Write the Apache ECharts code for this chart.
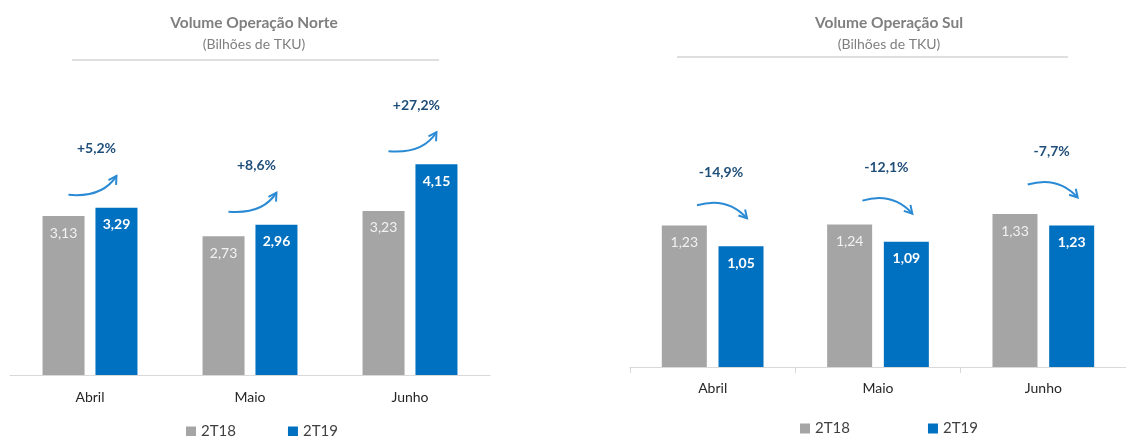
<!DOCTYPE html>
<html>
<head>
  <meta charset="UTF-8">
  <title>Volume Operação</title>
  <script src="https://cdn.jsdelivr.net/npm/echarts@6/dist/echarts.min.js"></script>
  <style>
    html, body { margin: 0; padding: 0; background: #fff; }
    #main { width: 1126px; height: 436px; }
  </style>
</head>
<body>
  <div id="main"></div>
<script type="text/javascript">
  // dados
  var meses = ['Abril', 'Maio', 'Junho'];
  var norte2T18 = [3.13, 2.73, 3.23];
  var norte2T19 = [3.29, 2.96, 4.15];
  var norteVar = ['+5,2%', '+8,6%', '+27,2%'];
  var sul2T18 = [1.23, 1.24, 1.33];
  var sul2T19 = [1.05, 1.09, 1.23];
  var sulVar = ['-14,9%', '-12,1%', '-7,7%'];

  var FONT = 'Lato';
  var CINZA = '#a5a5a5';
  var AZUL = '#0070c0';
  var SETA = '#2b8ad4';

  function fmt(p) {
    return p.value.toFixed(2).replace('.', ',');
  }

  function barSerie(name, data, xi, color, bw, labelColor, bold) {
    return {
      name: name,
      type: 'bar',
      xAxisIndex: xi,
      yAxisIndex: xi,
      data: data,
      barWidth: bw,
      barGap: '26%',
      itemStyle: { color: color },
      label: {
        show: true,
        position: 'insideTop',
        distance: 10,
        formatter: fmt,
        fontFamily: FONT,
        fontSize: 14,
        fontWeight: bold ? 'bold' : 'normal',
        color: labelColor
      }
    };
  }

  var myChart = echarts.init(document.getElementById('main'));
  var option = {
    animation: false,
    textStyle: { fontFamily: FONT },
    title: [
      {
        text: 'Volume Operação Norte', subtext: '(Bilhões de TKU)',
        left: 249, top: 10, textAlign: 'center', itemGap: 6,
        textStyle: { fontFamily: FONT, fontSize: 15.5, fontWeight: 'bold', color: '#7f7f7f' },
        subtextStyle: { fontFamily: FONT, fontSize: 14, color: '#7f7f7f' }
      },
      {
        text: 'Volume Operação Sul', subtext: '(Bilhões de TKU)',
        left: 884, top: 10, textAlign: 'center', itemGap: 6,
        textStyle: { fontFamily: FONT, fontSize: 15.5, fontWeight: 'bold', color: '#7f7f7f' },
        subtextStyle: { fontFamily: FONT, fontSize: 14, color: '#7f7f7f' }
      }
    ],
    legend: [
      {
        data: ['2T18', '2T19'], left: 181, top: 419, icon: 'rect',
        itemWidth: 10, itemHeight: 10, itemGap: 52,
        textStyle: { fontFamily: FONT, fontSize: 15, color: '#404040' }
      },
      {
        data: ['2T18', '2T19'], left: 795, top: 416, icon: 'rect',
        itemWidth: 10, itemHeight: 10, itemGap: 78,
        textStyle: { fontFamily: FONT, fontSize: 15, color: '#404040' }
      }
    ],
    grid: [
      { left: 10, width: 480, top: 121, height: 254 },
      { left: 630, width: 510, top: 137, height: 230 }
    ],
    xAxis: [
      {
        type: 'category', gridIndex: 0, data: meses,
        axisLine: { lineStyle: { color: '#d9d9d9' } },
        axisTick: { show: false },
        axisLabel: { margin: 15, fontFamily: FONT, fontSize: 14, color: '#262626' }
      },
      {
        type: 'category', gridIndex: 1, data: meses,
        axisLine: { lineStyle: { color: '#d9d9d9' } },
        axisTick: { show: true, length: 6, lineStyle: { color: '#d9d9d9' } },
        axisLabel: { margin: 14, fontFamily: FONT, fontSize: 14, color: '#262626' }
      }
    ],
    yAxis: [
      { type: 'value', gridIndex: 0, min: 0, max: 5, show: false },
      { type: 'value', gridIndex: 1, min: 0, max: 2, show: false }
    ],
    series: [
      barSerie('2T18', norte2T18, 0, CINZA, 42, '#f2f2f2', false),
      barSerie('2T19', norte2T19, 0, AZUL, 42, '#ffffff', true),
      barSerie('2T18', sul2T18, 1, CINZA, 45, '#f2f2f2', false),
      barSerie('2T19', sul2T19, 1, AZUL, 45, '#ffffff', true)
    ]
  };
  myChart.setOption(option);

  // posição das barras azuis
  function topoAzul(si, i) {
    var lay = myChart.getModel().getSeriesByIndex(si).getData().getItemLayout(i);
    return { x: lay.x + lay.width / 2, y: Math.min(lay.y, lay.y + lay.height) };
  }

  function seta(sx, sy, cx, cy, ex, ey) {
    var dx = ex - cx, dy = ey - cy;
    var len = Math.sqrt(dx * dx + dy * dy);
    dx /= len; dy /= len;
    var a = Math.PI / 6, h = 9;
    function rot(t) {
      return [ex - h * (dx * Math.cos(t) - dy * Math.sin(t)),
              ey - h * (dx * Math.sin(t) + dy * Math.cos(t))];
    }
    return [
      {
        type: 'bezierCurve',
        shape: { x1: sx, y1: sy, x2: ex, y2: ey, cpx1: cx, cpy1: cy },
        style: { stroke: SETA, lineWidth: 2, fill: null }
      },
      {
        type: 'polyline',
        shape: { points: [rot(a), [ex, ey], rot(-a)] },
        style: { stroke: SETA, lineWidth: 2, fill: null }
      }
    ];
  }

  function texto(x, y, t) {
    return {
      type: 'text', x: x, y: y,
      style: {
        text: t, fill: '#1f4e79', font: 'bold 14px ' + FONT,
        align: 'center', verticalAlign: 'middle'
      }
    };
  }

  var graficos = [
    { type: 'line', shape: { x1: 72, y1: 60, x2: 439, y2: 60 }, style: { stroke: '#bfbfbf', lineWidth: 1 } },
    { type: 'line', shape: { x1: 677, y1: 57, x2: 1068, y2: 57 }, style: { stroke: '#bfbfbf', lineWidth: 1 } }
  ];

  meses.forEach(function (m, i) {
    // norte: setas para cima
    var p = topoAzul(1, i);
    var ex = p.x, ey = p.y - 32;
    graficos = graficos.concat(seta(ex - 48, ey + 19, ex - 14, ey + 22, ex, ey));
    graficos.push(texto(ex - 20, ey - 27, norteVar[i]));

    // sul: setas para baixo
    var q = topoAzul(3, i);
    var fx = q.x + 6, fy = q.y - 28;
    graficos = graficos.concat(seta(fx - 50, fy - 13, fx - 20, fy - 22, fx, fy));
    graficos.push(texto(fx - 26, fy - 46, sulVar[i]));
  });

  myChart.setOption({ graphic: graficos });
</script>
</body>
</html>
